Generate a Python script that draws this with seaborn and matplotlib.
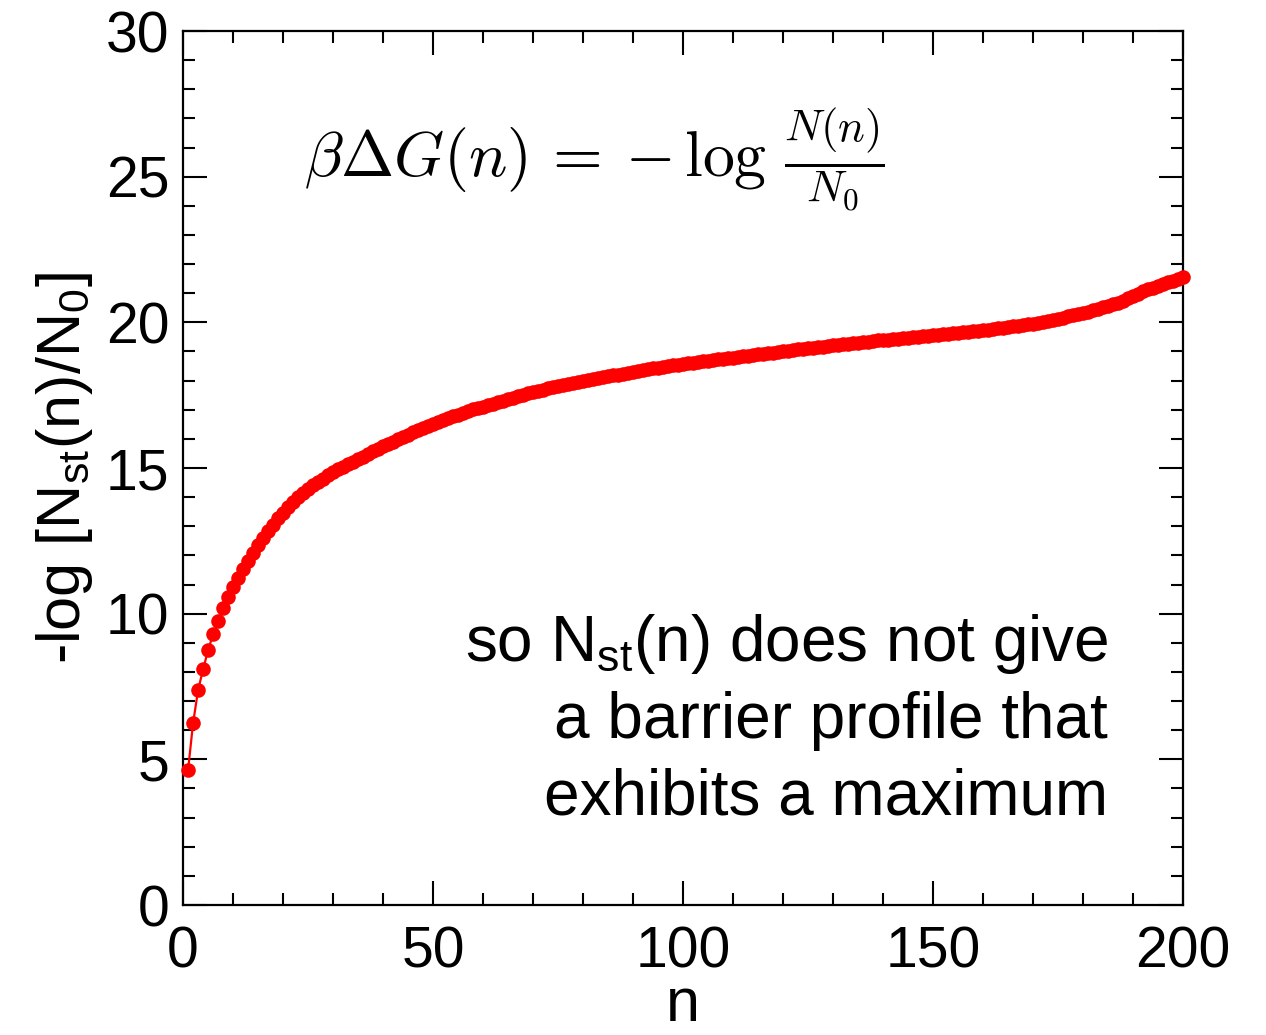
import matplotlib
matplotlib.use("Agg")
import matplotlib.pyplot as plt
import seaborn as sns
import pandas as pd
from matplotlib.ticker import MultipleLocator

# ---- data ----
n_values = list(range(1, 201))
neg_log_nst = [
    4.63, 6.24, 7.37, 8.09, 8.74, 9.29, 9.74, 10.18, 10.56, 10.90,
    11.22, 11.53, 11.82, 12.09, 12.35, 12.60, 12.84, 13.06, 13.27, 13.47,
    13.66, 13.83, 13.99, 14.14, 14.28, 14.41, 14.53, 14.64, 14.75, 14.85,
    14.95, 15.04, 15.13, 15.21, 15.30, 15.39, 15.48, 15.57, 15.66, 15.75,
    15.83, 15.91, 15.99, 16.07, 16.15, 16.23, 16.30, 16.37, 16.44, 16.51,
    16.58, 16.65, 16.71, 16.77, 16.83, 16.89, 16.95, 17.01, 17.06, 17.11,
    17.16, 17.21, 17.26, 17.31, 17.36, 17.41, 17.46, 17.51, 17.56, 17.61,
    17.65, 17.69, 17.73, 17.77, 17.81, 17.85, 17.89, 17.93, 17.96, 18.00,
    18.03, 18.06, 18.09, 18.12, 18.15, 18.18, 18.21, 18.24, 18.27, 18.30,
    18.33, 18.36, 18.39, 18.42, 18.44, 18.47, 18.50, 18.53, 18.55, 18.58,
    18.60, 18.62, 18.65, 18.67, 18.69, 18.71, 18.73, 18.75, 18.77, 18.79,
    18.81, 18.83, 18.85, 18.87, 18.90, 18.92, 18.94, 18.96, 18.98, 19.00,
    19.02, 19.05, 19.07, 19.09, 19.11, 19.13, 19.15, 19.17, 19.19, 19.21,
    19.23, 19.25, 19.26, 19.28, 19.30, 19.32, 19.34, 19.36, 19.38, 19.39,
    19.41, 19.43, 19.44, 19.46, 19.48, 19.49, 19.51, 19.53, 19.54, 19.56,
    19.57, 19.59, 19.61, 19.63, 19.64, 19.66, 19.68, 19.70, 19.72, 19.73,
    19.75, 19.77, 19.79, 19.81, 19.83, 19.86, 19.88, 19.91, 19.93, 19.96,
    19.99, 20.02, 20.05, 20.08, 20.12, 20.16, 20.21, 20.25, 20.29, 20.33,
    20.37, 20.42, 20.47, 20.52, 20.57, 20.62, 20.68, 20.75, 20.82, 20.90,
    20.98, 21.06, 21.13, 21.19, 21.25, 21.31, 21.37, 21.43, 21.50, 21.57,
]
x_ticks = [0, 50, 100, 150, 200]
y_ticks = [0, 5, 10, 15, 20, 25, 30]

formula_text = r'$\beta\Delta G(n)\,=\:-\,\log\,\frac{N(n)}{N_0}$'
note_lines = [r'so N$_{\mathrm{st}}$(n) does not give',
              'a barrier profile that',
              'exhibits a maximum']
x_label = 'n'
y_label = r'-log [N$_{\mathrm{st}}$(n)/N$_{\mathrm{0}}$]'

df = pd.DataFrame({'n': n_values, 'val': neg_log_nst})

sns.set_theme(style='ticks')
plt.rcParams['font.family'] = ['Liberation Sans', 'DejaVu Sans']
plt.rcParams['mathtext.fontset'] = 'custom'
plt.rcParams['mathtext.rm'] = 'Liberation Sans'
plt.rcParams['mathtext.it'] = 'Liberation Sans:italic'
plt.rcParams['mathtext.bf'] = 'Liberation Sans:bold'
for key in ['text.color', 'axes.labelcolor', 'xtick.color', 'ytick.color',
            'axes.edgecolor']:
    plt.rcParams[key] = 'black'

fig = plt.figure(figsize=(12.66, 10.35), dpi=100)
ax = fig.add_axes([0.1446, 0.1256, 0.7898, 0.8444])

sns.lineplot(data=df, x='n', y='val', ax=ax, color='#ff0000', linewidth=1.6,
             marker='o', markersize=10.5, markeredgewidth=0, markerfacecolor='#ff0000',
             clip_on=False, zorder=3)

ax.set_xlim(0, 200)
ax.set_ylim(0, 30)
ax.set_xticks(x_ticks)
ax.set_yticks(y_ticks)
ax.xaxis.set_minor_locator(MultipleLocator(10))
ax.yaxis.set_minor_locator(MultipleLocator(1))
ax.tick_params(which='both', direction='in', top=True, right=True,
               width=1.5, color='black')
ax.tick_params(which='major', length=17, labelsize=41)
ax.tick_params(axis='x', which='major', pad=15)
ax.tick_params(axis='y', which='major', pad=10)
ax.tick_params(which='minor', length=8.5)
for s in ax.spines.values():
    s.set_linewidth(1.6)
    s.set_color('black')
    s.set_visible(True)

ax.set_xlabel(x_label, fontsize=44)
ax.xaxis.label.set_va('baseline')
ax.xaxis.set_label_coords(0.5, (905 - 1021) / 874)
ax.set_ylabel(y_label, fontsize=44, labelpad=8)

ax.text(24.2, 25.6, formula_text, fontsize=46, math_fontfamily='cm',
        ha='left', va='center')

baselines = [8.36, 5.73, 3.12]
for line, yb in zip(note_lines, baselines):
    ax.text(185, yb, line, fontsize=46, ha='right', va='baseline')

fig.savefig('out.png', dpi=100)
